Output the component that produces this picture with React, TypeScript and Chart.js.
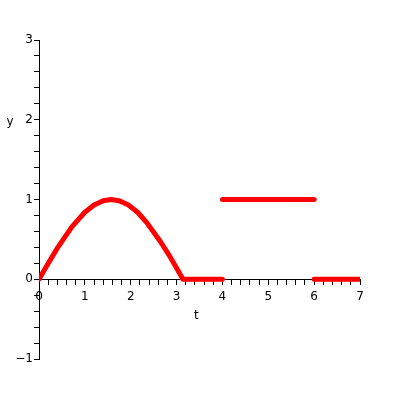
import React, { useEffect, useRef } from "react";
import { Chart, registerables } from "chart.js";

Chart.register(...registerables);

// Data
const sineX = [0, 0.17, 0.4, 0.72, 1.0, 1.2, 1.4, 1.57, 1.75, 1.95, 2.15, 2.35, 2.65, 2.85, 3.14, 4];
const sineY = [0, 0.17, 0.39, 0.66, 0.84, 0.93, 0.985, 1.0, 0.984, 0.93, 0.84, 0.71, 0.47, 0.29, 0, 0];
const highX = [4, 6];
const highY = [1, 1];
const tailX = [6, 7];
const tailY = [0, 0];

const X_MIN = 0;
const X_MAX = 7;
const Y_MIN = -1;
const Y_MAX = 3;
const TICK_STEP = 0.2;
const X_TITLE = "t";
const Y_TITLE = "y";
const FONT = '"DejaVu Sans", sans-serif';
const RED = "#ff0000";

const pts = (xs: number[], ys: number[]) => xs.map((x, i) => ({ x, y: ys[i] }));

const isInt = (v: number) => Math.abs(v - Math.round(v)) < 1e-6;
const fmt = (v: number) => {
  const r = Math.round(v);
  return r < 0 ? "\u2212" + Math.abs(r) : String(r);
};

const titlePlugin = {
  id: "mapleTitles",
  afterDraw(chart: any) {
    const { ctx, scales } = chart;
    ctx.save();
    ctx.font = "12px " + FONT;
    ctx.fillStyle = "#000";
    ctx.textAlign = "center";
    ctx.textBaseline = "middle";
    ctx.fillText(Y_TITLE, 10, scales.y.getPixelForValue(1.97));
    ctx.fillText(X_TITLE, scales.x.getPixelForValue(3.43), scales.y.getPixelForValue(-0.46));
    ctx.restore();
  },
};

export default function App() {
  const ref = useRef<HTMLCanvasElement | null>(null);
  useEffect(() => {
    if (!ref.current) return;
    const lineStyle = {
      borderColor: RED,
      backgroundColor: RED,
      borderWidth: 5,
      pointRadius: 0,
      showLine: true,
      fill: false,
      tension: 0,
      borderCapStyle: "round" as const,
      borderJoinStyle: "round" as const,
    };
    const axisCommon = {
      type: "linear" as const,
      border: { display: true, color: "#000", width: 1 },
      grid: { drawOnChartArea: false, drawTicks: true, tickLength: 5, color: "#000", lineWidth: 1 },
      title: { display: false },
    };
    const chart = new Chart(ref.current, {
      type: "scatter",
      data: {
        datasets: [
          { ...lineStyle, data: pts(sineX, sineY) },
          { ...lineStyle, data: pts(highX, highY) },
          { ...lineStyle, data: pts(tailX, tailY) },
        ],
      },
      options: {
        animation: false,
        responsive: false,
        layout: { padding: { left: 0, right: 40, top: 40, bottom: 41 } },
        plugins: { legend: { display: false }, tooltip: { enabled: false } },
        scales: {
          x: {
            ...axisCommon,
            position: { y: 0 } as any,
            min: X_MIN,
            max: X_MAX,
            ticks: {
              stepSize: TICK_STEP,
              autoSkip: false,
              maxTicksLimit: 100,
              maxRotation: 0,
              padding: 5,
              color: "#000",
              font: { family: FONT, size: 12 },
              callback: (v: any) => (isInt(Number(v)) ? fmt(Number(v)) : ""),
            },
          },
          y: {
            ...axisCommon,
            position: "left",
            min: Y_MIN,
            max: Y_MAX,
            afterFit: (scale: any) => {
              scale.width = 39;
            },
            ticks: {
              stepSize: TICK_STEP,
              autoSkip: false,
              maxTicksLimit: 100,
              padding: 1,
              color: "#000",
              font: { family: FONT, size: 12 },
              callback: (v: any) => (isInt(Number(v)) ? fmt(Number(v)) : ""),
            },
          },
        },
      },
      plugins: [titlePlugin],
    });
    return () => chart.destroy();
  }, []);
  return (
    <div style={{ position: "absolute", left: 0, top: 0, width: 400, height: 400, background: "#fff" }}>
      <canvas ref={ref} width={400} height={400} style={{ display: "block" }} />
    </div>
  );
}
